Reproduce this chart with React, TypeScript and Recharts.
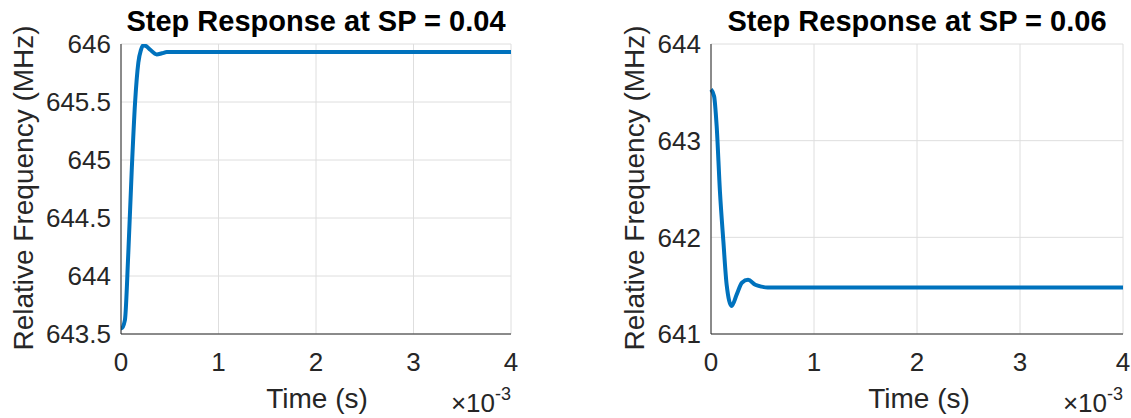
import { LineChart, Line, XAxis, YAxis, CartesianGrid } from 'recharts';

// time axis is in units of 1e-3 s
const timeTicks = [0, 1, 2, 3, 4];

const leftTime = [0, 0.007, 0.04, 0.075, 0.11, 0.144, 0.178, 0.205, 0.23, 0.26, 0.3, 0.366, 0.42, 0.47, 0.55, 1, 2, 3, 4];
const leftFreq = [643.55, 643.55, 643.62, 644.2, 644.91, 645.49, 645.84, 645.95, 645.99, 645.98, 645.95, 645.91, 645.92, 645.93, 645.93, 645.93, 645.93, 645.93, 645.93];
const leftTicks = [643.5, 644, 644.5, 645, 645.5, 646];

const rightTime = [0, 0.03, 0.055, 0.087, 0.12, 0.152, 0.2, 0.25, 0.3, 0.36, 0.43, 0.49, 0.55, 1, 2, 3, 4];
const rightFreq = [643.53, 643.46, 643.15, 642.47, 641.96, 641.51, 641.29, 641.41, 641.53, 641.56, 641.51, 641.49, 641.48, 641.48, 641.48, 641.48, 641.48];
const rightTicks = [641, 642, 643, 644];

const titles = ['Step Response at SP = 0.04', 'Step Response at SP = 0.06'];

const FONT = '"Liberation Sans", Arial, Helvetica, sans-serif';
const AXIS = '#262626';
const BLUE = '#0072BD';

const leftData = leftTime.map((t, i) => ({ t, f: leftFreq[i] }));
const rightData = rightTime.map((t, i) => ({ t, f: rightFreq[i] }));

function StepChart({ data, domain, ticks, yWidth, marginRight, width }: {
  data: { t: number; f: number }[];
  domain: [number, number];
  ticks: number[];
  yWidth: number;
  marginRight: number;
  width: number;
}) {
  const tick = { fill: AXIS, fontSize: 26, fontFamily: FONT };
  return (
    <LineChart width={width} height={418} data={data} margin={{ top: 44, right: marginRight, bottom: 0, left: 0 }}>
      <CartesianGrid stroke="#dedede" strokeWidth={1} />
      <XAxis
        dataKey="t"
        type="number"
        domain={[0, 4]}
        ticks={timeTicks}
        height={84}
        tick={tick}
        tickLine={false}
        tickSize={0}
        tickMargin={19}
        stroke={AXIS}
      />
      <XAxis xAxisId="top" orientation="top" dataKey="t" type="number" domain={[0, 4]} height={0} tick={false} tickLine={false} stroke={AXIS} />
      <YAxis
        type="number"
        domain={domain}
        ticks={ticks}
        width={yWidth}
        tick={tick}
        tickLine={false}
        tickSize={0}
        tickMargin={10}
        stroke={AXIS}
        allowDataOverflow
      />
      <YAxis yAxisId="right" orientation="right" type="number" domain={domain} width={0} tick={false} tickLine={false} stroke={AXIS} />
      <Line dataKey="f" type="monotone" stroke={BLUE} strokeWidth={4} dot={false} isAnimationActive={false} />
    </LineChart>
  );
}

export default function App() {
  return (
    <div style={{ position: 'absolute', left: 0, top: 0, width: 1131, height: 418, background: '#fff', fontFamily: FONT }}>
      <div style={{ position: 'absolute', left: 0, top: 0 }}>
        <StepChart data={leftData} domain={[643.5, 646]} ticks={leftTicks} yWidth={121} marginRight={49} width={560} />
      </div>
      <div style={{ position: 'absolute', left: 560, top: 0 }}>
        <StepChart data={rightData} domain={[641, 644]} ticks={rightTicks} yWidth={151} marginRight={8} width={571} />
      </div>
      <svg width={1131} height={418} style={{ position: 'absolute', left: 0, top: 0, pointerEvents: 'none' }} fontFamily={FONT}>
        {/* titles */}
        <text x={316} y={31} textAnchor="middle" fontSize={29} fontWeight="bold" fill="#000">{titles[0]}</text>
        <text x={917} y={31} textAnchor="middle" fontSize={29} fontWeight="bold" fill="#000">{titles[1]}</text>
        {/* y labels */}
        <text transform="translate(33,188) rotate(-90)" textAnchor="middle" fontSize={28} fill={AXIS}>Relative Frequency (MHz)</text>
        <text transform="translate(644,188) rotate(-90)" textAnchor="middle" fontSize={28} fill={AXIS}>Relative Frequency (MHz)</text>
        {/* x labels */}
        <text x={317} y={408} textAnchor="middle" fontSize={28} fill={AXIS}>Time (s)</text>
        <text x={919} y={408} textAnchor="middle" fontSize={28} fill={AXIS}>Time (s)</text>
        {/* exponent */}
        <text x={511} y={412} textAnchor="end" fontSize={26} fill={AXIS}>×10<tspan dy={-12} fontSize={18}>-3</tspan></text>
        <text x={1123} y={412} textAnchor="end" fontSize={26} fill={AXIS}>×10<tspan dy={-12} fontSize={18}>-3</tspan></text>
      </svg>
    </div>
  );
}
